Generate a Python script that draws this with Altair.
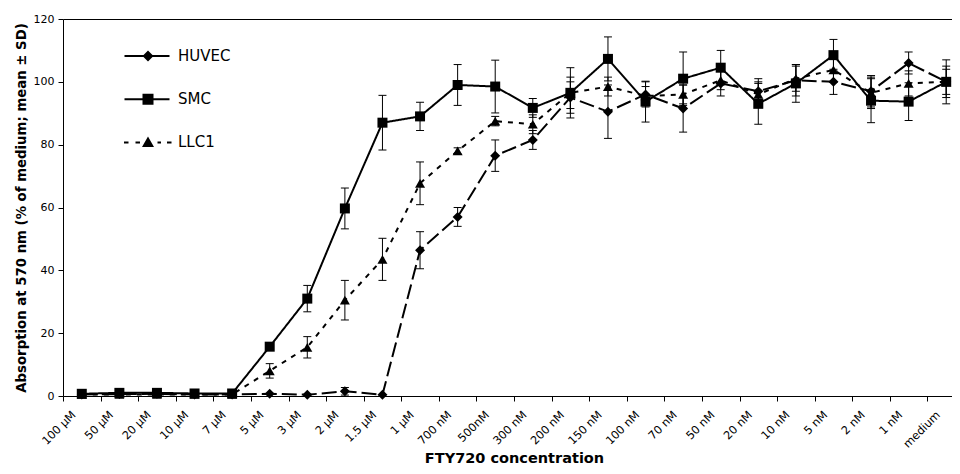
import altair as alt
import pandas as pd

categories = ["100 µM", "50 µM", "20 µM", "10 µM", "7 µM", "5 µM", "3 µM", "2 µM",
              "1.5 µM", "1 µM", "700 nM", "500nM", "300 nM", "200 nM", "150 nM",
              "100 nM", "70 nM", "50 nM", "20 nM", "10 nM", "5 nM", "2 nM", "1 nM", "medium"]

series_names = ["HUVEC", "SMC", "LLC1"]

huvec_mean = [0.5, 0.6, 0.7, 0.5, 0.5, 0.7, 0.4, 1.5, 0.4, 46.4, 57.0, 76.5,
              81.5, 95.0, 90.5, 96.0, 91.5, 99.5, 97.0, 100.5, 100.0, 97.0, 106.0, 100.0]
huvec_sd = [0, 0, 0, 0, 0, 0, 0, 1.2, 0, 5.9, 3.0, 5.0,
            3.0, 5.0, 8.5, 4.0, 7.5, 4.0, 4.0, 5.0, 4.0, 5.0, 3.5, 5.0]

smc_mean = [0.7, 1.0, 1.0, 0.8, 0.8, 15.7, 31.0, 59.7, 87.0, 89.0, 99.0, 98.5,
            91.7, 96.5, 107.3, 93.7, 101.0, 104.5, 93.0, 99.5, 108.5, 94.0, 93.7, 100.0]
smc_sd = [0, 0, 0, 0, 0, 1.0, 4.2, 6.5, 8.7, 4.5, 6.5, 8.4,
          3.0, 8.0, 7.0, 6.5, 8.5, 5.5, 6.5, 6.0, 5.0, 7.0, 6.0, 7.0]

llc1_mean = [0.5, 0.5, 0.5, 0.5, 0.5, 8.0, 15.5, 30.5, 43.5, 67.7, 78.0, 87.5,
             86.5, 96.5, 98.5, 95.5, 96.0, 100.5, 96.0, 101.0, 103.8, 96.5, 99.5, 100.0]
llc1_sd = [0, 0, 0, 0, 0, 2.3, 3.4, 6.3, 6.7, 6.8, 1.0, 1.5,
           3.0, 5.0, 3.0, 3.0, 3.0, 3.0, 4.0, 4.0, 4.0, 5.0, 4.0, 4.0]

rows = []
for name, means, sds in [("HUVEC", huvec_mean, huvec_sd),
                         ("LLC1", llc1_mean, llc1_sd),
                         ("SMC", smc_mean, smc_sd)]:
    for c, m, s in zip(categories, means, sds):
        rows.append({"series": name, "conc": c, "mean": m, "sd": s,
                     "lo": m - s, "hi": m + s})
df = pd.DataFrame(rows)

FONT = "DejaVu Sans"

x_scale = alt.Scale(type="band", domain=categories, range=[0, 902],
                    paddingInner=0, paddingOuter=0)
y_scale = alt.Scale(domain=[0, 120], nice=False, zero=True)

x_axis = alt.Axis(title="FTY720 concentration", labelAngle=-45,
                  labelAlign="right", labelBaseline="middle",
                  labelOffset=-8, labelPadding=12, tickSize=5,
                  tickBand="extent", labelFontSize=11.3,
                  titleFontSize=14.5, titleFontWeight="bold",
                  titleY=62, titleBaseline="middle",
                  labelColor="black", titleColor="black",
                  domainColor="black", tickColor="black",
                  labelFont=FONT, titleFont=FONT, grid=False)
top_axis = alt.Axis(orient="top", labels=False, ticks=False, title=None,
                    domainColor="black", grid=False)
y_axis = alt.Axis(title="Absorption at 570 nm (% of medium; mean ± SD)",
                  values=[0, 20, 40, 60, 80, 100, 120], tickSize=5,
                  labelPadding=4, labelFontSize=11, titleFontSize=13.3,
                  titleFontWeight="bold", titleX=-42, titleBaseline="middle",
                  labelColor="black", titleColor="black",
                  domainColor="black", tickColor="black",
                  labelFont=FONT, titleFont=FONT, grid=False)


def xch(axis=None):
    return alt.X("conc:N", scale=x_scale, sort=categories, axis=axis)


dash_range = [[15, 5], [1, 0], [5, 6]]
base = alt.Chart(df)

lines = base.mark_line(color="black", strokeWidth=2).encode(
    x=xch(x_axis),
    y=alt.Y("mean:Q", scale=y_scale, axis=y_axis),
    strokeDash=alt.StrokeDash("series:N", scale=alt.Scale(domain=series_names, range=dash_range),
                              legend=None),
)

err = base.transform_filter("datum.sd > 0")
rules = err.mark_rule(color="black", strokeWidth=1).encode(
    x=xch(),
    y=alt.Y("lo:Q", scale=y_scale),
    y2="hi:Q",
)
caps_lo = err.mark_tick(color="black", size=8, thickness=1, opacity=1).encode(
    x=xch(),
    y=alt.Y("lo:Q", scale=y_scale),
)
caps_hi = err.mark_tick(color="black", size=8, thickness=1, opacity=1).encode(
    x=xch(),
    y=alt.Y("hi:Q", scale=y_scale),
)

points = base.mark_point(filled=True, size=100, opacity=1, color="black").encode(
    x=xch(),
    y=alt.Y("mean:Q", scale=y_scale),
    shape=alt.Shape("series:N", scale=alt.Scale(domain=series_names,
                                                range=["diamond", "square", "triangle-up"]),
                    legend=None),
)

# legend symbols: line drawn as thin filled bars plus the marker
solid = "M-2.35,-0.1H2.15V0.1H-2.35Z"
dotted = ("M-2.4,-0.1H-1.95V0.1H-2.4Z M-1.25,-0.1H-0.8V0.1H-1.25Z "
          "M0.95,-0.1H1.3V0.1H0.95Z M1.9,-0.1H2.35V0.1H1.9Z")
legend_paths = [
    solid + " M0,-0.55L0.55,0L0,0.55L-0.55,0Z",
    solid + " M-0.55,-0.55H0.55V0.55H-0.55Z",
    dotted + " M0,-0.6L0.6,0.45H-0.6Z",
]
legend_layer = base.transform_filter("false").mark_point(
    filled=True, size=400, opacity=1, color="black").encode(
    x=xch(top_axis),
    y=alt.Y("mean:Q", scale=y_scale),
    shape=alt.Shape("series:N", scale=alt.Scale(domain=series_names, range=legend_paths),
                    legend=alt.Legend(title=None, orient="none", legendX=74, legendY=26,
                                      symbolSize=400, labelFontSize=15, labelFont=FONT,
                                      labelColor="black", labelOffset=19, rowPadding=23.2,
                                      symbolFillColor="black", symbolOpacity=1,
                                      padding=0)),
)

chart = alt.layer(lines, rules, caps_lo, caps_hi, points, legend_layer).resolve_scale(
    shape="independent", strokeDash="independent"
).resolve_axis(x="independent").properties(
    width=889, height=377,
    autosize=alt.AutoSizeParams(type="none"),
    padding={"left": 55, "top": 11, "right": 0, "bottom": 70},
    background="white",
).configure_view(stroke=None)

chart.save("out.html", embed_options={"renderer": "svg", "actions": False})
